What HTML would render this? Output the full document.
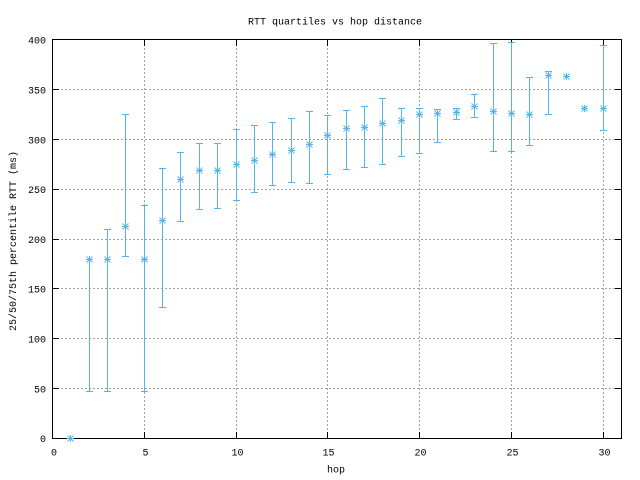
<!DOCTYPE html>
<html><head><meta charset="utf-8"><style>
html,body{margin:0;padding:0;background:#fff;}
svg{display:block;}
text{font-family:"Liberation Mono","DejaVu Sans Mono",monospace;font-size:10px;fill:#000;}
</style></head><body>
<svg width="640" height="480" viewBox="0 0 640 480" xmlns="http://www.w3.org/2000/svg">
<rect width="640" height="480" fill="#fff"/>
<defs>
<path id="s" d="M-3 0.5H4M0.5 -3V4M-2.5 -2.5L3.5 3.5M-2.5 3.5L3.5 -2.5" stroke="#56b4e9" stroke-width="1" fill="none"/>
</defs>
<!-- grid -->
<g stroke="#a0a0a0" stroke-width="1" stroke-dasharray="2,2" fill="none" shape-rendering="crispEdges">
<path d="M53 89.5H621M53 139.5H621M53 189.5H621M53 239.5H621M53 288.5H621M53 338.5H621M53 388.5H621"/>
<path d="M144.5 40V438M236.5 40V438M327.5 40V438M419.5 40V438M511.5 40V438M603.5 40V438"/>
</g>
<!-- ticks -->
<g stroke="#000" stroke-width="1" fill="none" shape-rendering="crispEdges">
<path d="M53 89.5h6M53 139.5h6M53 189.5h6M53 239.5h6M53 288.5h6M53 338.5h6M53 388.5h6"/>
<path d="M621 89.5h-6M621 139.5h-6M621 189.5h-6M621 239.5h-6M621 288.5h-6M621 338.5h-6M621 388.5h-6"/>
<path d="M144.5 438v-6M236.5 438v-6M327.5 438v-6M419.5 438v-6M511.5 438v-6M603.5 438v-6"/>
<path d="M144.5 40v6M236.5 40v6M327.5 40v6M419.5 40v6M511.5 40v6M603.5 40v6"/>
<rect x="52.5" y="39.5" width="569" height="399"/>
</g>
<!-- error bars -->
<g stroke="#56b4e9" stroke-width="1" fill="none" shape-rendering="crispEdges">
<path d="M89.5 259V391M86 259.5h7M86 391.5h7
M107.5 229V391M104 229.5h7M104 391.5h7
M125.5 114V256M122 114.5h7M122 256.5h7
M144.5 205V391M141 205.5h7M141 391.5h7
M162.5 168V307M159 168.5h7M159 307.5h7
M180.5 152V221M177 152.5h7M177 221.5h7
M199.5 143V209M196 143.5h7M196 209.5h7
M217.5 143V208M214 143.5h7M214 208.5h7
M236.5 129V200M233 129.5h7M233 200.5h7
M254.5 125V192M251 125.5h7M251 192.5h7
M272.5 122V185M269 122.5h7M269 185.5h7
M291.5 118V182M288 118.5h7M288 182.5h7
M309.5 111V183M306 111.5h7M306 183.5h7
M327.5 115V174M324 115.5h7M324 174.5h7
M346.5 110V169M343 110.5h7M343 169.5h7
M364.5 106V167M361 106.5h7M361 167.5h7
M382.5 98V164M379 98.5h7M379 164.5h7
M401.5 108V156M398 108.5h7M398 156.5h7
M419.5 108V153M416 108.5h7M416 153.5h7
M437.5 109V142M434 109.5h7M434 142.5h7
M456.5 108V119M453 108.5h7M453 119.5h7
M474.5 94V117M471 94.5h7M471 117.5h7
M493.5 43V151M490 43.5h7M490 151.5h7
M511.5 42V151M508 42.5h7M508 151.5h7
M529.5 77V145M526 77.5h7M526 145.5h7
M548.5 71V114M545 71.5h7M545 114.5h7
M603.5 45V130M600 45.5h7M600 130.5h7"/>
</g>
<!-- medians -->
<use href="#s" x="70" y="438"/>
<use href="#s" x="89" y="259"/>
<use href="#s" x="107" y="259"/>
<use href="#s" x="125" y="226"/>
<use href="#s" x="144" y="259"/>
<use href="#s" x="162" y="220"/>
<use href="#s" x="180" y="179"/>
<use href="#s" x="199" y="170"/>
<use href="#s" x="217" y="170"/>
<use href="#s" x="236" y="164"/>
<use href="#s" x="254" y="160"/>
<use href="#s" x="272" y="154"/>
<use href="#s" x="291" y="150"/>
<use href="#s" x="309" y="144"/>
<use href="#s" x="327" y="135"/>
<use href="#s" x="346" y="128"/>
<use href="#s" x="364" y="127"/>
<use href="#s" x="382" y="123"/>
<use href="#s" x="401" y="120"/>
<use href="#s" x="419" y="114"/>
<use href="#s" x="437" y="113"/>
<use href="#s" x="456" y="112"/>
<use href="#s" x="474" y="106"/>
<use href="#s" x="493" y="111"/>
<use href="#s" x="511" y="113"/>
<use href="#s" x="529" y="114"/>
<use href="#s" x="548" y="75"/>
<use href="#s" x="566" y="76"/>
<use href="#s" x="584" y="108"/>
<use href="#s" x="603" y="108"/>
<!-- labels -->
<text x="335" y="24.5" text-anchor="middle">RTT quartiles vs hop distance</text>
<g text-anchor="end">
<text x="46" y="43.5">400</text>
<text x="46" y="93.5">350</text>
<text x="46" y="143.5">300</text>
<text x="46" y="193">250</text>
<text x="46" y="243">200</text>
<text x="46" y="292.5">150</text>
<text x="46" y="342.5">100</text>
<text x="46" y="392.5">50</text>
<text x="46" y="442">0</text>
</g>
<g text-anchor="middle">
<text x="54" y="455.5">0</text>
<text x="145.5" y="455.5">5</text>
<text x="237.5" y="455.5">10</text>
<text x="328.5" y="455.5">15</text>
<text x="420.5" y="455.5">20</text>
<text x="512.5" y="455.5">25</text>
<text x="604.5" y="455.5">30</text>
<text x="336" y="472.5">hop</text>
</g>
<text transform="translate(16,241) rotate(-90)" text-anchor="middle">25/50/75th percentile RTT (ms)</text>
</svg>
</body></html>
